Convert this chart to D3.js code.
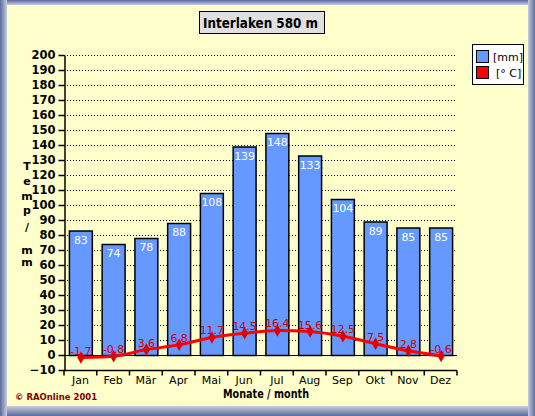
<!DOCTYPE html>
<html><head><meta charset="utf-8">
<script src="https://cdn.jsdelivr.net/npm/d3@7"></script>
<style>body{margin:0;background:#fff}svg{display:block}text{font-family:"DejaVu Sans",Verdana,sans-serif}</style>
</head><body>
<script>
const months = ["Jan","Feb","Mär","Apr","Mai","Jun","Jul","Aug","Sep","Okt","Nov","Dez"];
const precip = [83,74,78,88,108,139,148,133,104,89,85,85];
const temp = [-1.7,-0.8,3.6,6.8,11.7,14.5,16.4,15.6,12.5,7.5,2.8,-0.6];
const yTicks = d3.range(-10,201,10);
const title = "Interlaken 580 m";
const legendLabels = ["[mm]","[° C]"];
const yTitle = ["T","e","m","p","/","m","m"];

const W=535,H=416;
const svg=d3.select("body").append("svg").attr("width",W).attr("height",H);
const defs=svg.append("defs");
function grad(id,x1,y1,x2,y2,stops){const g=defs.append("linearGradient").attr("id",id).attr("x1",x1).attr("y1",y1).attr("x2",x2).attr("y2",y2);stops.forEach(s=>g.append("stop").attr("offset",s[0]).attr("stop-color",s[1]));}
grad("gl",0,0,1,0,[[0,"#5a6a9a"],[1,"#c8cce0"]]);
grad("gt",0,0,0,1,[[0,"#5a6a9a"],[1,"#c8cce0"]]);
grad("gr",0,0,1,0,[[0,"#c8cce0"],[1,"#5a6a9a"]]);
grad("gb",0,0,0,1,[[0,"#c8cce0"],[1,"#5a6a9a"]]);
svg.append("rect").attr("width",W).attr("height",H).attr("fill","#8a96c0");
svg.append("rect").attr("x",0).attr("y",0).attr("width",W).attr("height",5).attr("fill","url(#gt)");
svg.append("rect").attr("x",0).attr("y",H-10).attr("width",W).attr("height",10).attr("fill","url(#gb)");
svg.append("rect").attr("x",0).attr("y",0).attr("width",7).attr("height",H).attr("fill","url(#gl)");
svg.append("rect").attr("x",W-7).attr("y",0).attr("width",7).attr("height",H).attr("fill","url(#gr)");
svg.append("rect").attr("x",7).attr("y",5).attr("width",W-14).attr("height",H-15).attr("fill","#ffffcc");

const x=d3.scaleBand().domain(months).range([64,457]).paddingInner(0.3).paddingOuter(0.15);
const y=d3.scaleLinear().domain([-10,200]).range([370,55]);

// gridlines
svg.append("g").selectAll("line").data(yTicks.filter(d=>d>-10)).join("line")
 .attr("x1",64).attr("x2",457).attr("y1",d=>y(d)+0.5).attr("y2",d=>y(d)+0.5)
 .attr("stroke","#000").attr("stroke-width",1).attr("stroke-dasharray",d=>d===0?null:"1,2");

// bars
svg.append("g").selectAll("rect").data(precip).join("rect")
 .attr("x",(d,i)=>x(months[i])+0.5).attr("width",x.bandwidth())
 .attr("y",d=>y(d)+0.5).attr("height",d=>y(0)-y(d))
 .attr("fill","#6699ff").attr("stroke","#000").attr("stroke-width",1.5);
svg.append("g").selectAll("text").data(precip).join("text")
 .attr("x",(d,i)=>x(months[i])+x.bandwidth()/2+0.5).attr("y",d=>y(d)+13)
 .attr("text-anchor","middle").attr("fill","#fff").attr("font-size",11).text(d=>d);

// y axis
const ya=svg.append("g").attr("transform","translate(64.5,0)").call(d3.axisLeft(y).tickValues(yTicks).tickSize(6).tickSizeOuter(0));
ya.select(".domain").attr("stroke","#000").attr("stroke-width",1.5);
ya.selectAll("text").attr("font-size",11.5).attr("font-weight","bold").attr("fill","#000").attr("font-family","'DejaVu Sans',sans-serif");
ya.selectAll(".tick line").attr("stroke","#000").attr("stroke-width",1.5);

// x axis
const xa=svg.append("g").attr("transform","translate(0,370.5)");
xa.append("line").attr("x1",64).attr("x2",457).attr("stroke","#000").attr("stroke-width",1.5);
const bounds=d3.range(0,13).map(i=>64+i*(457-64)/12);
xa.selectAll("line.t").data(bounds).join("line").attr("class","t").attr("x1",d=>d).attr("x2",d=>d).attr("y1",0).attr("y2",5).attr("stroke","#000").attr("stroke-width",1.5);
xa.selectAll("text").data(months).join("text").attr("x",d=>x(d)+x.bandwidth()/2).attr("y",13).attr("text-anchor","middle").attr("font-size",11).attr("fill","#000").text(d=>d);

// temperature line
const cx=(i)=>x(months[i])+x.bandwidth()/2+0.5;
svg.append("path").datum(temp).attr("d",d3.line().x((d,i)=>cx(i)).y(d=>y(d)).curve(d3.curveMonotoneX))
 .attr("fill","none").attr("stroke","#ff0000").attr("stroke-width",3);
svg.append("g").selectAll("path").data(temp).join("path")
 .attr("transform",(d,i)=>`translate(${cx(i)},${y(d)})`)
 .attr("d",d3.symbol().type(d3.symbolDiamond).size(45)).attr("fill","#e00000");
svg.append("g").selectAll("text").data(temp).join("text")
 .attr("x",(d,i)=>cx(i)).attr("y",d=>y(d)-3).attr("text-anchor","middle").attr("fill","#cc0000").attr("font-size",11).text(d=>d);

// title
svg.append("rect").attr("x",199.5).attr("y",11.5).attr("width",125).attr("height",22).attr("fill","#e0e0e0").attr("stroke","#000");
svg.append("text").attr("x",203).attr("y",27.5).attr("font-weight","bold").attr("font-size",13.5)
 .attr("textLength",115).attr("lengthAdjust","spacingAndGlyphs").text(title);

// legend
const lg=svg.append("g");
lg.append("rect").attr("x",472.5).attr("y",44.5).attr("width",51).attr("height",40).attr("fill","#fff").attr("stroke","#000");
["#6699ff","#ff0000"].forEach((c,i)=>{
 lg.append("rect").attr("x",476.5).attr("y",50.5+i*16).attr("width",12).attr("height",12).attr("fill",c).attr("stroke","#000");
 lg.append("text").attr("x",i?496:493).attr("y",61+i*16).attr("font-size",11).text(legendLabels[i]);
});

// y title
svg.append("g").selectAll("text").data(yTitle).join("text")
 .attr("x",27).attr("y",(d,i)=>[170,185,200,214,231,254,266][i]).attr("text-anchor","middle")
 .attr("font-weight","bold").attr("font-size",11).text(d=>d);

svg.append("text").attr("x",223).attr("y",398).attr("font-weight","bold").attr("font-size",11.5)
 .attr("textLength",86).attr("lengthAdjust","spacingAndGlyphs").text("Monate / month");
svg.append("text").attr("x",15).attr("y",400).attr("fill","#800000").attr("font-weight","bold").attr("font-size",8.5).text("©  RAOnline 2001");
</script>
</body></html>
